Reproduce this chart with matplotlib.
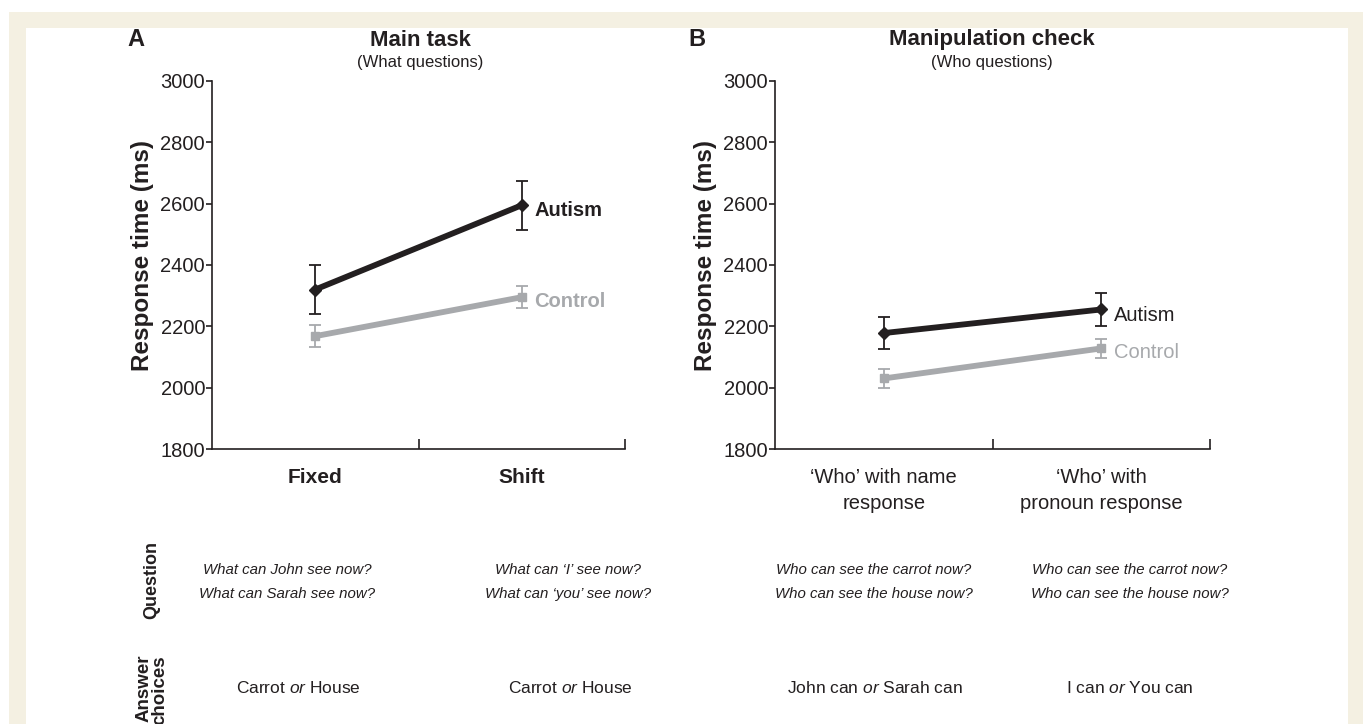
import matplotlib.pyplot as plt
from matplotlib.patches import Rectangle

plt.rcParams['font.family'] = ['Liberation Sans', 'DejaVu Sans']
plt.rcParams['mathtext.fontset'] = 'custom'
plt.rcParams['mathtext.it'] = 'Liberation Sans:italic'
plt.rcParams['mathtext.rm'] = 'Liberation Sans'

# mean response times (ms) and error bars
cond_a = ['Fixed', 'Shift']
autism_a = [2320, 2595]
autism_a_err = [80, 80]
control_a = [2168, 2295]
control_a_err = [35, 35]

cond_b = ['\u2018Who\u2019 with name\nresponse', '\u2018Who\u2019 with\npronoun response']
autism_b = [2178, 2255]
autism_b_err = [53, 55]
control_b = [2030, 2128]
control_b_err = [30, 30]

questions = [
    'What can John see now?\nWhat can Sarah see now?',
    'What can \u2018I\u2019 see now?\nWhat can \u2018you\u2019 see now?',
    'Who can see the carrot now?\nWho can see the house now?',
    'Who can see the carrot now?\nWho can see the house now?',
]
answers = [('Carrot', 'House'), ('Carrot', 'House'),
           ('John can', 'Sarah can'), ('I can', 'You can')]

W, H = 1363, 724
INK = '#231f20'
GREY = '#a7a9ac'
CREAM = '#f4f0e2'

fig = plt.figure(figsize=(W / 100, H / 100), dpi=100)
fig.patch.set_facecolor('white')

# cream frame round the figure
fig.patches.append(Rectangle((9 / W, 0), 1 - 9 / W, 1 - 12 / H, transform=fig.transFigure,
                             facecolor=CREAM, edgecolor='none', zorder=-2))
fig.patches.append(Rectangle((26 / W, 0), (1348 - 26) / W, 1 - 28 / H, transform=fig.transFigure,
                             facecolor='white', edgecolor='none', zorder=-1))


def px_axes(x0, x1, y0, y1):
    return fig.add_axes([x0 / W, 1 - y1 / H, (x1 - x0) / W, (y1 - y0) / H])


def draw_panel(ax, cats, aut, aut_err, con, con_err, bold_labels, label_x):
    x = [0.5, 1.5]
    ax.errorbar(x, con, yerr=con_err, color=GREY, lw=4.2, marker='s', ms=6,
                ecolor=GREY, elinewidth=1.3, capsize=4, capthick=1.3, zorder=2)
    ax.errorbar(x, aut, yerr=aut_err, color=INK, lw=4.2, marker='D', ms=6.5,
                ecolor=INK, elinewidth=1.3, capsize=4, capthick=1.3, zorder=3)
    w = 'bold' if bold_labels else 'normal'
    ax.annotate('Autism', (x[1], aut[1]), xytext=(9, -4), textcoords='offset points',
                va='center', ha='left', fontsize=14.5, fontweight=w, color=INK)
    ax.annotate('Control', (x[1], con[1]), xytext=(9, -3), textcoords='offset points',
                va='center', ha='left', fontsize=14.5, fontweight=w, color=GREY)

    ax.set_xlim(0, 2)
    ax.set_ylim(1800, 3000)
    ax.set_yticks(range(1800, 3001, 200))
    ax.set_xticks(x)
    ax.set_xticklabels(cats, fontsize=15 if bold_labels else 14.5,
                       fontweight='bold' if bold_labels else 'normal',
                       color=INK, linespacing=1.45)
    ax.set_xticks([1, 2], minor=True)
    ax.tick_params(axis='x', which='major', length=0, pad=14)
    ax.tick_params(axis='x', which='minor', direction='in', length=7, width=1.2, color=INK)
    ax.tick_params(axis='y', direction='out', length=4, width=1.2, color=INK,
                   labelsize=14.5, labelcolor=INK, pad=1)
    for s in ['top', 'right']:
        ax.spines[s].set_visible(False)
    for s in ['left', 'bottom']:
        ax.spines[s].set_linewidth(1.2)
        ax.spines[s].set_color(INK)
    ax.set_ylabel('Response time (ms)', fontsize=17.5, fontweight='bold', color=INK)
    ax.yaxis.set_label_coords(label_x, 0.525)
    ax.set_facecolor('none')


ax1 = px_axes(212, 625, 81, 449)
draw_panel(ax1, cond_a, autism_a, autism_a_err, control_a, control_a_err, True, -0.14)
ax2 = px_axes(775, 1210, 81, 449)
draw_panel(ax2, cond_b, autism_b, autism_b_err, control_b, control_b_err, False, -0.133)


def ftext(x, y, s, **kw):
    kw.setdefault('color', INK)
    return fig.text(x / W, 1 - y / H, s, **kw)


# panel letters and titles
ftext(136, 40, 'A', fontsize=17, fontweight='bold', ha='center', va='center')
ftext(420, 40, 'Main task', fontsize=16, fontweight='bold', ha='center', va='center')
ftext(420, 62, '(What questions)', fontsize=12, ha='center', va='center')
ftext(697, 40, 'B', fontsize=17, fontweight='bold', ha='center', va='center')
ftext(992, 40, 'Manipulation check', fontsize=16, fontweight='bold', ha='center', va='center')
ftext(992, 62, '(Who questions)', fontsize=12, ha='center', va='center')

# question and answer rows under the axes
ftext(152, 580, 'Question', fontsize=13, fontweight='bold', rotation=90,
      ha='center', va='center')
ftext(152, 655, 'Answer\nchoices', fontsize=13.5, fontweight='bold', rotation=90,
      ha='center', va='top', multialignment='right', linespacing=0.95)

q_x = [287, 568, 874, 1130]
for qx, q in zip(q_x, questions):
    ftext(qx, 582, q, fontsize=10.8, style='italic', ha='center', va='center', linespacing=1.85)

a_x = [298, 570, 875, 1130]
for ax_, (a, b) in zip(a_x, answers):
    ftext(ax_, 688, f'{a} $\\it{{or}}$ {b}', fontsize=12.5, ha='center', va='center')

fig.savefig('out.png', dpi=100)
